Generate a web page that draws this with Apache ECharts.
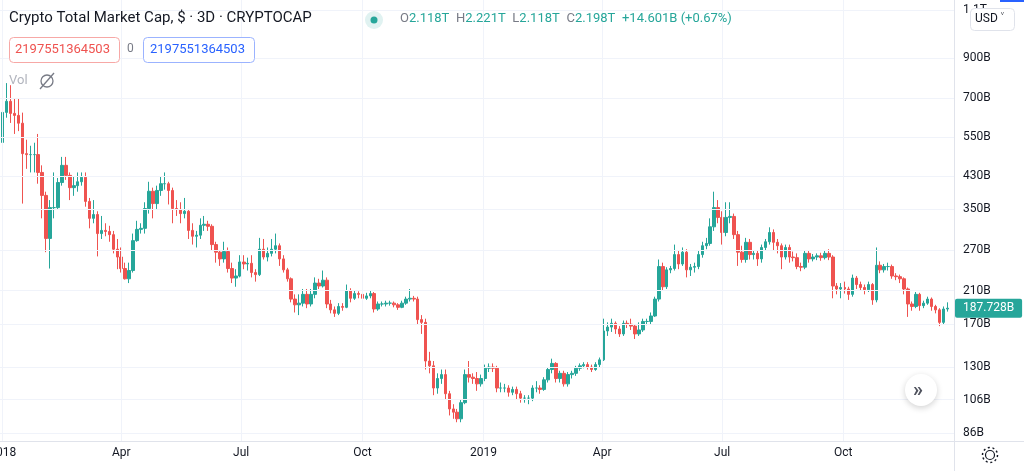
<!DOCTYPE html>
<html><head><meta charset="utf-8">
<script src="https://cdn.jsdelivr.net/npm/echarts@6/dist/echarts.min.js"></script>
<style>html,body{margin:0;padding:0;background:#fff}#c{width:1024px;height:471px}</style>
</head><body><div id="c"></div>
<script>
// 3-day candles starting 2018-01-01 (values in billions USD)
const startDate = '2018-01-01';
const stepDays = 3;
const opens = [531,641,687,637,629,599,495,492,492,492,440,381,291,353,353,413,460,432,400,405,415,427,367,330,338,300,306,304,298,272,259,241,226,238,287,308,310,351,391,362,393,410,410,393,351,349,340,345,306,295,297,316,318,314,280,267,256,268,241,227,230,251,248,
249,235,232,272,259,265,272,278,256,239,226,199,192,194,205,193,205,220,216,224,193,186,182,190,189,210,200,206,205,200,203,206,187,193,193,194,194,192,189,194,199,200,199,175,172,135,131,
114,121,124,110,100,98,94,104,124,122,121,117,121,129,130,129,114,114,114,111,113,110,107,107,107,114,114,113,120,128,133,121,125,117,124,125,129,131,132,130,128,132,136,163,167,171,165,160,171,170,168,160,164,173,173,179,199,244,215,239,241,263,248,267,239,243,244,263,278,282,313,353,332,302,332,334,298,267,255,284,263,265,256,275,285,302,284,278,259,275,259,258,244,243,265,256,259,261,258,265,259,216,212,214,212,205,227,218,214,211,218,198,246,239,244,244,230,229,226,212,193,190,205,191,194,199,190,186,172,187];
const closes = [641,687,637,629,599,495,492,492,492,440,381,291,353,353,413,460,432,400,405,415,427,367,330,338,300,306,304,298,272,259,241,226,238,287,308,310,351,391,362,393,410,410,393,351,349,340,345,306,295,297,316,318,314,280,267,256,268,241,227,230,251,248,249,
235,232,272,259,265,272,278,256,239,226,199,192,194,205,193,205,220,216,224,193,186,182,190,189,210,200,206,205,200,203,206,187,193,193,194,194,192,189,194,199,200,199,175,172,135,131,114,
121,124,110,100,98,94,104,124,122,121,117,121,129,130,129,114,114,114,111,113,110,107,107,107,114,114,113,120,128,133,121,125,117,124,125,129,131,132,130,128,132,136,163,167,171,165,160,171,170,168,160,164,173,173,179,199,244,215,239,241,263,248,267,239,243,244,263,278,282,313,353,332,302,332,334,298,267,255,284,263,265,256,275,285,302,284,278,259,275,259,258,244,243,265,256,259,261,258,265,259,216,212,214,212,205,227,218,214,211,218,198,246,239,244,244,230,229,226,212,193,190,205,191,194,199,190,186,172,187,188];
const lows = [505,620,600,560,570,362,450,440,440,410,330,267,241,330,350,405,420,370,380,390,405,355,310,320,260,290,295,285,265,240,235,225,220,235,285,300,300,340,330,350,380,395,360,320,335,320,330,290,280,275,290,305,305,270,250,245,250,235,220,215,228,240,238,
228,222,230,255,252,260,265,245,235,222,195,183,180,190,188,190,200,212,214,188,182,178,180,185,188,195,198,200,196,198,200,183,185,190,190,191,189,186,188,192,196,196,170,160,128,125,109,
110,117,106,96,94,92,92,103,118,117,112,115,119,126,126,111,111,111,108,109,106,104,104,103,105,111,110,112,118,125,118,118,115,115,121,123,127,129,128,126,127,130,135,158,162,160,157,158,166,164,155,158,162,169,170,178,196,210,212,234,238,240,245,228,230,235,240,258,272,278,305,320,280,295,320,290,245,250,250,255,255,245,250,270,280,270,265,240,255,250,252,240,237,240,250,252,254,253,255,254,200,205,200,206,198,202,212,210,205,208,192,195,234,235,238,226,224,220,205,178,185,188,185,188,192,185,182,168,170,184];
const highs = [700,770,760,700,700,640,540,520,530,560,460,390,370,440,425,485,485,440,430,440,440,440,375,370,345,335,320,315,305,290,275,250,250,300,325,320,365,415,400,405,430,440,415,400,370,365,375,350,320,305,330,335,325,318,285,270,285,275,250,240,262,262,258,
262,240,292,290,275,290,300,282,262,242,228,205,205,212,212,212,228,226,238,228,198,190,194,194,218,213,210,209,208,207,210,208,196,196,197,197,196,194,197,202,212,203,202,180,176,143,135,
125,128,128,112,103,100,106,128,135,125,126,124,132,133,133,131,118,117,116,115,115,112,109,109,116,119,116,122,130,137,134,127,127,126,127,131,133,134,134,132,134,138,176,172,176,173,168,174,174,176,170,172,176,176,183,202,255,250,243,245,280,270,275,272,248,250,270,285,292,330,390,370,345,365,365,340,305,278,292,290,270,270,280,290,312,308,290,282,280,280,268,265,250,270,270,264,265,266,270,272,262,220,220,222,215,232,230,222,218,222,220,275,252,248,250,247,234,232,228,214,196,208,207,197,202,201,192,188,190,195];
const yTickValues = [1216, 900, 700, 550, 430, 350, 270, 210, 170, 130, 106, 86];
const yTickLabels = ['1.1T','900B','700B','550B','430B','350B','270B','210B','170B','130B','106B','86B'];
const xTickDates = ['2018-01-01','2018-04-01','2018-07-01','2018-10-01','2019-01-01','2019-04-01','2019-07-01','2019-10-01'];
const xTickLabels = ['2018','Apr','Jul','Oct','2019','Apr','Jul','Oct'];
const lastPriceLabel = '187.728B';

const UP = '#26a69a', DOWN = '#ef5350';
const t0 = Date.parse(startDate + 'T00:00:00Z');
const DAY = 86400000;
const data = closes.map((c, i) => [t0 + i * stepDays * DAY, opens[i], c, lows[i], highs[i]]);

const chart = echarts.init(document.getElementById('c'));
const font = 'Roboto, "Noto Sans", sans-serif';
chart.setOption({
  animation: false,
  grid: { left: 0, right: 70, top: 0, bottom: 30 },
  xAxis: { type: 'time', min: t0 - 2 * DAY, max: t0 + 722 * DAY,
    axisLine: { show: false }, axisTick: { show: false }, axisLabel: { show: false }, splitLine: { show: false } },
  yAxis: { type: 'log', min: 81.8, max: 1296, position: 'right',
    axisLine: { show: false }, axisTick: { show: false }, axisLabel: { show: false }, splitLine: { show: false } },
  series: [{
    type: 'candlestick', data: data, barWidth: 3,
    itemStyle: { color: UP, color0: DOWN, borderColor: UP, borderColor0: DOWN, borderWidth: 1 },
    markLine: {
      silent: true, symbol: 'none', animation: false,
      data: [
        ...yTickValues.map((v, i) => ({ yAxis: v,
          lineStyle: { color: '#f0f3fa', width: 1, type: 'solid' },
          label: { show: true, position: 'end', distance: 9, formatter: yTickLabels[i], color: '#131722', fontSize: 12, fontFamily: font } })),
        ...xTickDates.map((d, i) => ({ xAxis: Date.parse(d + 'T00:00:00Z'),
          lineStyle: { color: '#f0f3fa', width: 1, type: 'solid' },
          label: { show: true, position: 'start', distance: 6, formatter: xTickLabels[i], color: '#131722', fontSize: 12, fontFamily: font } })),
        { yAxis: closes[closes.length - 1], lineStyle: { color: 'rgba(0,0,0,0)', width: 1 },
          label: { show: true, position: 'end', distance: 1, formatter: lastPriceLabel, color: '#fff', fontSize: 12, fontFamily: font,
            backgroundColor: UP, padding: [4, 8, 3, 8], borderRadius: 2 } }
      ]
    }
  }],
  graphic: [
    { type: 'rect', shape: { x: 954, y: 0, width: 1, height: 471 }, style: { fill: '#e0e3eb' }, z: 10 },
    { type: 'rect', shape: { x: 0, y: 441, width: 1024, height: 1 }, style: { fill: '#e0e3eb' }, z: 10 },
    { type: 'rect', shape: { x: 1000, y: 0, width: 24, height: 2 }, style: { fill: '#2962ff' }, z: 10 },
    { type: 'text', left: 9, top: 11, style: { text: 'Crypto Total Market Cap, $ · 3D · CRYPTOCAP', font: '15px ' + font, fill: '#131722' }, z: 10 },
    { type: 'circle', shape: { cx: 374, cy: 20, r: 9 }, style: { fill: '#e0f2f1' }, z: 10 },
    { type: 'circle', shape: { cx: 374, cy: 20, r: 3.5 }, style: { fill: UP }, z: 11 },
    { type: 'text', left: 400, top: 12, style: {
        text: '{l|O}{v|2.118T}  {l|H}{v|2.221T}  {l|L}{v|2.118T}  {l|C}{v|2.198T}  {v|+14.601B (+0.67%)}',
        rich: { l: { fill: '#787b86', font: '13px ' + font }, v: { fill: UP, font: '13px ' + font } } }, z: 10 },
    { type: 'rect', shape: { x: 9.5, y: 37.5, width: 110, height: 25, r: 4 }, style: { fill: '#fff', stroke: '#f7a8a6' }, z: 10 },
    { type: 'text', left: 15, top: 43, style: { text: '2197551364503', font: '13px ' + font, fill: DOWN }, z: 11 },
    { type: 'text', left: 127, top: 43, style: { text: '0', font: '12px ' + font, fill: '#787b86' }, z: 11 },
    { type: 'rect', shape: { x: 143.5, y: 37.5, width: 111, height: 25, r: 4 }, style: { fill: '#fff', stroke: '#9bb3ff' }, z: 10 },
    { type: 'text', left: 150, top: 43, style: { text: '2197551364503', font: '13px ' + font, fill: '#2962ff' }, z: 11 },
    { type: 'text', left: 9, top: 74, style: { text: 'Vol', font: '13px ' + font, fill: '#b2b5be' }, z: 10 },
    { type: 'circle', shape: { cx: 47, cy: 81, r: 6 }, style: { fill: 'none', stroke: '#787b86', lineWidth: 1.3 }, z: 10 },
    { type: 'line', shape: { x1: 40, y1: 89, x2: 54, y2: 73 }, style: { stroke: '#787b86', lineWidth: 1.3 }, z: 10 },
    { type: 'rect', shape: { x: 970.5, y: 8.5, width: 44, height: 22, r: 4 }, style: { fill: '#fff', stroke: '#e0e3eb' }, z: 12 },
    { type: 'text', left: 975, top: 13, style: { text: 'USD ˅', font: '12px ' + font, fill: '#131722' }, z: 13 },
    { type: 'circle', shape: { cx: 921, cy: 390, r: 16 }, style: { fill: '#fff', shadowBlur: 6, shadowColor: 'rgba(0,0,0,0.18)', shadowOffsetY: 2 }, z: 10 },
    { type: 'text', left: 913, top: 381, style: { text: '»', font: 'bold 20px ' + font, fill: '#50535e' }, z: 11 },
    { type: 'circle', shape: { cx: 990, cy: 455, r: 4.5 }, style: { fill: 'none', stroke: '#131722', lineWidth: 1.2 }, z: 10 },
    { type: 'circle', shape: { cx: 990, cy: 455, r: 7.5 }, style: { fill: 'none', stroke: '#131722', lineWidth: 1.5, lineDash: [2, 2.7] }, z: 10 }
  ]
});
</script></body></html>
